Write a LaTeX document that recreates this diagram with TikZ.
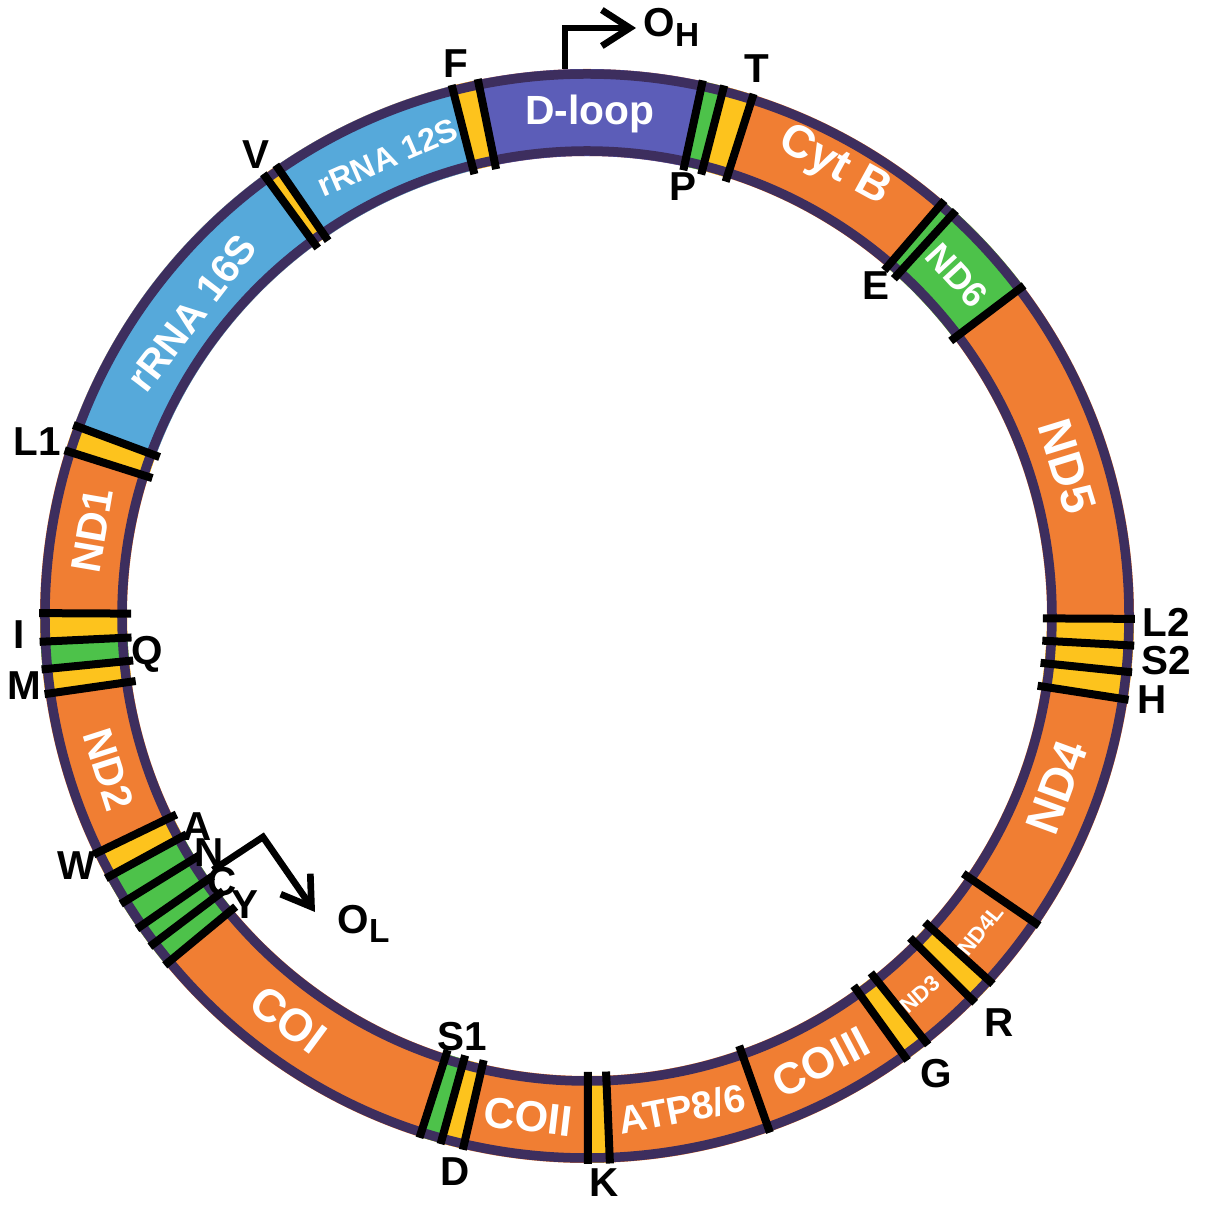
\documentclass[tikz,border=0pt]{standalone}
\usepackage{fontspec}
\setmainfont{Liberation Sans}
\usetikzlibrary{arrows.meta}

\definecolor{geneorange}{HTML}{F07E33}
\definecolor{rrnablue}{HTML}{56A9DA}
\definecolor{dloopblue}{HTML}{5C5DB8}
\definecolor{trnayellow}{HTML}{FDC31D}
\definecolor{trnagreen}{HTML}{4DC24A}
\definecolor{rimpurple}{HTML}{3D2E5E}

\begin{document}
\begin{tikzpicture}[
  font=\bfseries,
  rim/.style={draw=rimpurple, line width=0.95mm},
  bar/.style={draw=black, line width=0.8mm},
  gene/.style={text=white, inner sep=0pt, font=\bfseries\fontsize{#1}{#1}\selectfont},
  trna/.style={inner sep=0pt, font=\bfseries\fontsize{11.5}{13}\selectfont},
  arr/.style={
    -{Straight Barb[length=2.8mm,width=3.6mm]},
    line width=1.9pt,
  },
]
  \useasboundingbox (-5.87,-5.94) rectangle (6.23,6.16);
  % Ring: protein genes first, then the other sectors on top
  \fill[geneorange, even odd rule] (0,0) circle[radius=5.47] (0,0) circle[radius=4.60];
  \foreach \a/\b/\c in {77.8/101.5/dloopblue, 101.5/104.3/trnayellow, 104.3/124.6/rrnablue,
      124.6/126.2/trnayellow, 126.2/159.6/rrnablue, 159.6/162.4/trnayellow,
      179.7/182.7/trnayellow, 182.7/185.6/trnagreen, 185.6/188.2/trnayellow,
      205.8/208.6/trnayellow, 208.6/219.6/trnagreen, 252.2/254.5/trnagreen,
      254.5/256.9/trnayellow, 270.1/272.4/trnayellow, 305.8/308.5/trnayellow,
      315.1/317.8/trnayellow, 351.2/359.7/trnayellow, 397.1/409.3/trnagreen,
      432.3/435.5/trnayellow, 435.5/437.8/trnagreen}
    \fill[\c] (\a:4.60) arc[start angle=\a, end angle=\b, radius=4.60]
      -- (\b:5.47) arc[start angle=\b, end angle=\a, radius=5.47] -- cycle;
  \draw[rim] (0,0) circle[radius=5.42];
  \draw[rim] (0,0) circle[radius=4.65];
  % Gene boundaries
  \foreach \a in {77.8,101.5,104.3,124.6,126.2,159.6,162.4,179.7,182.7,185.6,188.2,
      205.8,208.6,211.7,214.8,217.1,219.6,252.2,254.5,256.9,270.1,272.4,289.5,
      305.8,308.5,315.1,317.8,325.6,351.2,354.1,356.9,359.7,397.1,407.7,409.3,
      432.3,435.5}
    \draw[bar] (\a:4.56) -- (\a:5.48);

  % Gene names on the ring
  \node[gene=11.6] (dloop) at (89.7:5.02) {D-loop};
  \node[gene=9.2, rotate=23.5] (rrna12) at (113.5:5.00) {rRNA 12S};
  \node[gene=11.4, rotate=52.5] (rrna16) at (142.5:4.98) {rRNA 16S};
  \node[gene=12, rotate=80.2] (nd1) at (170.2:5.02) {ND1};
  \node[gene=11.8, rotate=-72.2] (nd2) at (197.8:5.02) {ND2};
  \node[gene=13, rotate=-36.5] (coi) at (233.5:5.02) {COI};
  \node[gene=12.3, rotate=-6.7] (coii) at (263.3:5.04) {COII};
  \node[gene=11, rotate=10.9] (atp) at (280.9:5.02) {ATP8/6};
  \node[gene=12.5, rotate=27.7] (coiii) at (297.7:5.04) {COIII};
  \node[gene=6.3, rotate=41.3] (nd3) at (311.3:5.04) {ND3};
  \node[gene=6.3, rotate=51.4] (nd4l) at (321.4:5.04) {ND4L};
  \node[gene=13.5, rotate=69.9] (nd4) at (339.9:5.00) {ND4};
  \node[gene=13.5, rotate=-72.9] (nd5) at (17.3:5.03) {ND5};
  \node[gene=10.2, rotate=-47.4] (nd6) at (42.6:5.03) {ND6};
  \node[gene=13, rotate=-28.8] (cytb) at (61.2:5.13) {Cyt B};

  % tRNA letters
  \node[trna] (tF) at (-1.31,5.52) {F};
  \node[trna] (tT) at (1.70,5.47) {T};
  \node[trna] (tP) at (0.96,4.29) {P};
  \node[trna] (tE) at (2.89,3.30) {E};
  \node[trna] (tV) at (-3.31,4.61) {V};
  \node[trna] (tL1) at (-5.50,1.74) {L1};
  \node[trna] (tI) at (-5.68,-0.19) {I};
  \node[trna] (tQ) at (-4.40,-0.38) {Q};
  \node[trna] (tM) at (-5.63,-0.70) {M};
  \node[trna] (tW) at (-5.10,-2.50) {W};
  \node[trna] (tA) at (-3.90,-2.11) {A};
  \node[trna] (tN) at (-3.78,-2.37) {N};
  \node[trna] (tC) at (-3.65,-2.66) {C};
  \node[trna] (tY) at (-3.42,-2.89) {Y};
  \node[trna] (tS1) at (-1.25,-4.21) {S1};
  \node[trna] (tD) at (-1.32,-5.56) {D};
  \node[trna] (tK) at (0.17,-5.67) {K};
  \node[trna] (tG) at (3.49,-4.58) {G};
  \node[trna] (tR) at (4.12,-4.07) {R};
  \node[trna] (tL2) at (5.79,-0.06) {L2};
  \node[trna] (tS2) at (5.79,-0.45) {S2};
  \node[trna] (tH) at (5.65,-0.84) {H};

  % Origins of replication
  \node[trna, anchor=base west] (oh) at (0.56,5.79)
    {O\raisebox{-0.45ex}{\fontsize{9.5}{9.5}\selectfont H}};
  \coordinate (ohbase) at (-0.22,5.47);
  \coordinate (ohtip) at (0.49,5.88);
  \draw[arr] (ohbase) |- (ohtip);
  \node[trna, anchor=base west] (ol) at (-2.50,-3.17)
    {O\raisebox{-0.45ex}{\fontsize{9.5}{9.5}\selectfont L}};
  \coordinate (olbase) at (-3.74,-2.54);
  \coordinate (olbend) at (-3.24,-2.21);
  \coordinate (oltip) at (-2.72,-2.96);
  \draw[arr] (olbase) -- (olbend) -- (oltip);
\end{tikzpicture}
\end{document}
